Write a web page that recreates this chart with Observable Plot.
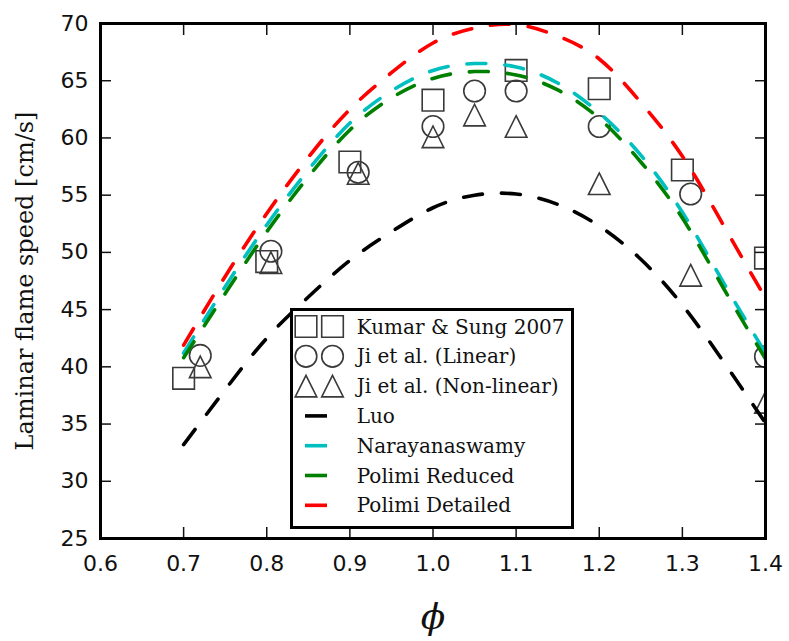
<!DOCTYPE html>
<html>
<head>
<meta charset="utf-8">
<script src="https://cdn.jsdelivr.net/npm/d3@7"></script>
<script src="https://cdn.jsdelivr.net/npm/@observablehq/plot@0.6"></script>
<style>
  html, body { margin: 0; padding: 0; background: #fff; }
  #fig { position: relative; width: 789px; height: 641px; overflow: hidden; }
  #legend { position: absolute; left: 290px; top: 308px; }
</style>
</head>
<body>
<div id="fig"></div>
<script>
// ---- data ----
const phiGrid = [0.70, 0.75, 0.80, 0.85, 0.90, 0.95, 1.00, 1.05, 1.10, 1.15, 1.20, 1.25, 1.30, 1.35, 1.40];
const luo        = [33.2, 38.0, 42.5, 46.1, 49.3, 51.8, 53.9, 55.0, 55.1, 54.2, 52.3, 49.4, 45.4, 40.4, 35.1];
const narayanan  = [41.2, 47.0, 52.4, 57.2, 61.3, 64.1, 65.9, 66.5, 66.2, 64.8, 62.2, 58.5, 53.5, 47.3, 41.2];
const polimiRed  = [40.8, 46.4, 51.8, 56.6, 60.7, 63.5, 65.2, 65.8, 65.5, 64.2, 61.7, 57.9, 53.0, 46.8, 40.7];
const polimiDet  = [41.9, 47.9, 53.4, 58.3, 62.5, 65.7, 68.3, 69.6, 69.9, 68.9, 66.9, 63.1, 58.4, 52.3, 46.0];

const kumarPhi = [0.70, 0.80, 0.90, 1.00, 1.10, 1.20, 1.30, 1.40];
const kumarSL  = [39.0, 49.2, 57.9, 63.3, 65.9, 64.3, 57.2, 49.5];
const jiPhi       = [0.72, 0.805, 0.91, 1.00, 1.05, 1.10, 1.20, 1.31, 1.40];
const jiLinear    = [41.0, 50.1, 57.0, 61.0, 64.1, 64.1, 61.0, 55.1, 40.9];
const jiNonlinear = [40.0, 49.1, 56.9, 60.1, 62.0, 61.0, 56.0, 48.0, 36.9];

const xTicks = [0.6, 0.7, 0.8, 0.9, 1.0, 1.1, 1.2, 1.3, 1.4];
const yTicks = [25, 30, 35, 40, 45, 50, 55, 60, 65, 70];

const legendLabels = ["Kumar & Sung 2007", "Ji et al. (Linear)", "Ji et al. (Non-linear)",
                      "Luo", "Narayanaswamy", "Polimi Reduced", "Polimi Detailed"];
const lineColors = ["#000000", "#00bfbf", "#008000", "#ff0000"];

// ---- matplotlib-like marker shapes ----
const half = s => Math.sqrt(s / Math.PI);
const mSquare = {draw(ctx, s) { const r = half(s); ctx.moveTo(-r, -r); ctx.lineTo(r, -r); ctx.lineTo(r, r); ctx.lineTo(-r, r); ctx.closePath(); }};
const mCircle = {draw(ctx, s) { const r = half(s); ctx.moveTo(r, 0); ctx.arc(0, 0, r, 0, 2 * Math.PI); }};
const mTriangle = {draw(ctx, s) { const r = half(s); ctx.moveTo(0, -r); ctx.lineTo(r, r); ctx.lineTo(-r, r); ctx.closePath(); }};
const symbols = [mSquare, mCircle, mTriangle];

const zipXY = (xs, ys) => xs.map((x, i) => ({x, y: ys[i]}));
const curves = [luo, narayanan, polimiRed, polimiDet].map(v => zipXY(phiGrid, v));
const expData = [zipXY(kumarPhi, kumarSL), zipXY(jiPhi, jiLinear), zipXY(jiPhi, jiNonlinear)];

const markerR = 10.8;
const markerStroke = "#3a3a3a";
const dash = "19,19";
const lw = 3.6;

const chart = Plot.plot({
  width: 789, height: 641,
  marginLeft: 100, marginRight: 24, marginTop: 23, marginBottom: 103,
  style: {background: "#fff", color: "#111"},
  x: {domain: [0.6, 1.4]},
  y: {domain: [25, 70]},
  marks: [
    // experimental markers
    ...expData.map((d, i) => Plot.dot(d, {x: "x", y: "y", r: markerR, symbol: symbols[i], fill: "none",
                                          stroke: markerStroke, strokeWidth: 1.6, clip: true})),
    // model curves
    ...curves.map((d, i) => Plot.line(d, {x: "x", y: "y", stroke: lineColors[i], strokeWidth: lw,
                                          strokeDasharray: dash, curve: "natural", clip: true})),
    // inward ticks on all four sides
    Plot.axisX(xTicks, {anchor: "bottom", tickSize: 11, dy: -11, strokeWidth: 1.5, tickFormat: () => "", label: null}),
    Plot.axisX(xTicks, {anchor: "top", tickSize: 11, dy: 11, strokeWidth: 1.5, tickFormat: () => "", label: null}),
    Plot.axisY(yTicks, {anchor: "left", tickSize: 11, dx: 11, strokeWidth: 1.5, tickFormat: () => "", label: null}),
    Plot.axisY(yTicks, {anchor: "right", tickSize: 11, dx: -11, strokeWidth: 1.5, tickFormat: () => "", label: null}),
    // tick labels
    Plot.axisX(xTicks, {anchor: "bottom", tickSize: 0, tickPadding: 17, tickFormat: d3.format(".1f"),
                        fontSize: 22, fontFamily: "DejaVu Sans", label: null}),
    Plot.axisY(yTicks, {anchor: "left", tickSize: 0, tickPadding: 12, tickFormat: d3.format("d"),
                        fontSize: 22, fontFamily: "DejaVu Sans", label: null}),
    // axis titles
    Plot.text(["Laminar flame speed [cm/s]"], {frameAnchor: "left", rotate: -90, dx: -75,
               textAnchor: "middle", fontSize: 24, fontFamily: "DejaVu Serif", lineAnchor: "middle", fill: "#111"}),
    Plot.text(["\u03D5"], {frameAnchor: "bottom", dy: 79, fontSize: 36, fontStyle: "italic", textAnchor: "middle",
               fontFamily: "DejaVu Serif", lineAnchor: "middle", fill: "#111"}),
    Plot.frame({stroke: "#000", strokeWidth: 3})
  ]
});
document.getElementById("fig").appendChild(chart);

// ---- legend (opaque box over the axes, like matplotlib) ----
const LW = 284, LH = 221;
const leg = d3.select("#fig").append("svg").attr("id", "legend")
  .attr("width", LW).attr("height", LH);
leg.append("rect").attr("x", 1.5).attr("y", 1.5).attr("width", LW - 3).attr("height", LH - 3)
  .attr("fill", "#fff").attr("stroke", "#000").attr("stroke-width", 3);
const rowY = i => 18.5 + i * 29.8;
legendLabels.forEach((lab, i) => {
  const y = rowY(i);
  if (i < 3) {
    const path = d3.symbol().type(symbols[i]).size(Math.PI * markerR * markerR)();
    [16, 42.5].forEach(x => leg.append("path").attr("d", path)
      .attr("transform", `translate(${x},${y})`)
      .attr("fill", "none").attr("stroke", markerStroke).attr("stroke-width", 1.6));
  } else {
    leg.append("line").attr("x1", 15).attr("x2", 37).attr("y1", y).attr("y2", y)
      .attr("stroke", lineColors[i - 3]).attr("stroke-width", lw);
  }
  leg.append("text").attr("x", 66.7).attr("y", y).attr("dy", "0.35em")
    .attr("font-family", "DejaVu Serif").attr("font-size", 20).attr("fill", "#111")
    .text(lab);
});
</script>
</body>
</html>
